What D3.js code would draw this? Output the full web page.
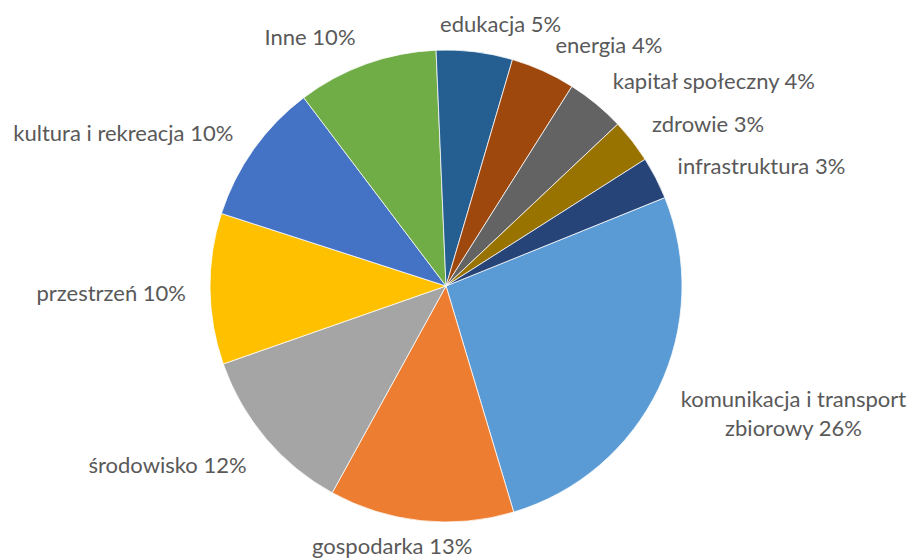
<!DOCTYPE html>
<html>
<head>
<meta charset="utf-8">
<script src="https://cdn.jsdelivr.net/npm/d3@7"></script>
<style>
  html, body { margin: 0; padding: 0; background: #fff; }
  svg { display: block; }
</style>
</head>
<body>
<svg id="chart" width="912" height="560"></svg>
<script>
// ---- data ----
const categories = [
  "komunikacja i transport zbiorowy",
  "gospodarka",
  "środowisko",
  "przestrzeń",
  "kultura i rekreacja",
  "Inne",
  "edukacja",
  "energia",
  "kapitał społeczny",
  "zdrowie",
  "infrastruktura"
];
const values = [26.4, 12.6, 11.6, 10.3, 9.7, 9.6, 5.2, 4.4, 4.0, 3.0, 2.9];
const percentLabels = ["26%", "13%", "12%", "10%", "10%", "10%", "5%", "4%", "4%", "3%", "3%"];
const firstSliceAngleDeg = 68;

// ---- styles ----
const colors = ["#5B9BD5", "#ED7D31", "#A5A5A5", "#FFC000", "#4472C4", "#70AD47",
                "#255E91", "#9E480E", "#636363", "#997300", "#264478"];
const W = 912, H = 560;
const cx = 446, cy = 286, R = 236;
const labelR = 256;
const fontSize = 22, lineH = 29, capH = 0.72 * fontSize;
const fontFamily = "Lato, 'Open Sans', sans-serif";
const textColor = "#595959";
const wrapWidth = 262;

const svg = d3.select("#chart");
svg.append("rect").attr("width", W).attr("height", H).attr("fill", "#fff");

const data = categories.map((c, i) => ({ name: c, value: values[i], pct: percentLabels[i], color: colors[i] }));

const start = firstSliceAngleDeg * Math.PI / 180;
const pie = d3.pie().value(d => d.value).sort(null)
  .startAngle(start).endAngle(start + 2 * Math.PI);
const arcs = pie(data);
const arc = d3.arc().innerRadius(0).outerRadius(R);

const g = svg.append("g").attr("transform", `translate(${cx},${cy})`);
g.selectAll("path.slice").data(arcs).join("path")
  .attr("class", "slice")
  .attr("d", arc)
  .attr("fill", d => d.data.color)
  .attr("stroke", "#ffffff")
  .attr("stroke-width", 0.75)
  .attr("stroke-linejoin", "round");

// ---- labels ----
const clamp = (v) => Math.max(-1, Math.min(1, v));
const labels = svg.append("g").attr("font-family", fontFamily)
  .attr("font-size", fontSize).attr("fill", textColor);

arcs.forEach(d => {
  const text = d.data.name + " " + d.data.pct;
  const t = labels.append("text").attr("text-anchor", "middle");
  // word wrap
  const words = text.split(" ");
  const lines = [];
  let cur = "";
  const probe = labels.append("text").attr("visibility", "hidden");
  words.forEach(wd => {
    const trial = cur ? cur + " " + wd : wd;
    probe.text(trial);
    if (cur && probe.node().getComputedTextLength() > wrapWidth) {
      lines.push(cur); cur = wd;
    } else cur = trial;
  });
  lines.push(cur);
  let w = 0;
  lines.forEach(l => { probe.text(l); w = Math.max(w, probe.node().getComputedTextLength()); });
  probe.remove();

  const a = (d.startAngle + d.endAngle) / 2;
  const px = cx + labelR * Math.sin(a);
  const py = cy - labelR * Math.cos(a);
  const fx = clamp(3 * Math.sin(a));
  const fy = clamp(1.2 * Math.cos(a));
  const hBlock = 24 * lines.length;
  const x = px + fx * (w / 2 + 4);
  let capCenter = py - fy * hBlock / 2 + 4;
  // keep the block (with descenders) inside the chart area
  const firstBase = capCenter - (lines.length - 1) * lineH / 2 + capH / 2;
  const lastBase = firstBase + (lines.length - 1) * lineH;
  const shift = Math.min(0, (H - 6) - lastBase);
  lines.forEach((l, i) => {
    t.append("tspan").attr("x", x).attr("y", firstBase + shift + i * lineH).text(l);
  });
});
</script>
</body>
</html>
